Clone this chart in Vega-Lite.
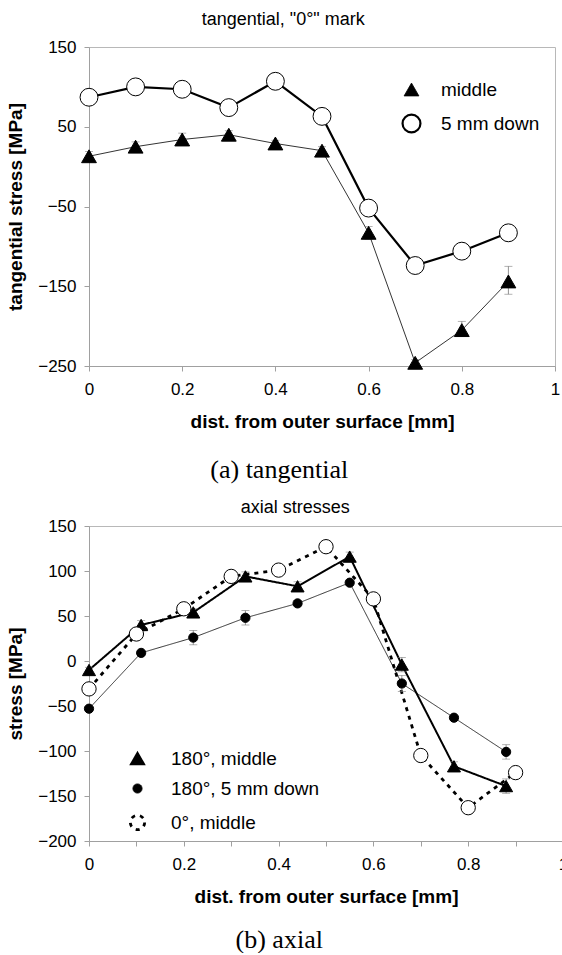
{
  "$schema": "https://vega.github.io/schema/vega-lite/v6.json",
  "padding": {"left": 6, "top": 10, "right": 0, "bottom": 0},
  "background": "white",
  "config": {
    "font": "Liberation Sans",
    "view": {"stroke": "#b8b8b8", "strokeWidth": 1},
    "axis": {
      "grid": false,
      "domainColor": "#a0a0a0",
      "tickColor": "#a0a0a0",
      "tickSize": 5,
      "labelColor": "black",
      "titleColor": "black",
      "labelFont": "Liberation Sans",
      "titleFont": "Liberation Sans",
      "labelFontSize": 17,
      "titleFontSize": 19,
      "titleFontWeight": "bold",
      "labelFlush": false,
      "labelOverlap": false
    },
    "legend": {"labelFont": "Liberation Sans", "labelFontSize": 19, "labelColor": "black"}
  },
  "datasets": {
    "top": [
      {"series": "middle", "x": 0.0, "y": 13, "lo": 8, "hi": 19},
      {"series": "middle", "x": 0.1, "y": 25, "lo": 20, "hi": 31},
      {"series": "middle", "x": 0.2, "y": 34, "lo": 28, "hi": 42},
      {"series": "middle", "x": 0.3, "y": 40, "lo": 35, "hi": 45},
      {"series": "middle", "x": 0.4, "y": 29, "lo": 25, "hi": 33},
      {"series": "middle", "x": 0.5, "y": 20, "lo": 16, "hi": 25},
      {"series": "middle", "x": 0.6, "y": -83, "lo": -91, "hi": -75},
      {"series": "middle", "x": 0.7, "y": -246, "lo": -250, "hi": -242},
      {"series": "middle", "x": 0.8, "y": -205, "lo": -213, "hi": -194},
      {"series": "middle", "x": 0.9, "y": -144, "lo": -160, "hi": -125},
      {"series": "5 mm down", "x": 0.0, "y": 87, "lo": 83, "hi": 91},
      {"series": "5 mm down", "x": 0.1, "y": 100, "lo": 96, "hi": 104},
      {"series": "5 mm down", "x": 0.2, "y": 97, "lo": 93, "hi": 101},
      {"series": "5 mm down", "x": 0.3, "y": 74, "lo": 70, "hi": 78},
      {"series": "5 mm down", "x": 0.4, "y": 107, "lo": 103, "hi": 111},
      {"series": "5 mm down", "x": 0.5, "y": 63, "lo": 59, "hi": 67},
      {"series": "5 mm down", "x": 0.6, "y": -52, "lo": -57, "hi": -47},
      {"series": "5 mm down", "x": 0.7, "y": -124, "lo": -130, "hi": -118},
      {"series": "5 mm down", "x": 0.8, "y": -106, "lo": -115, "hi": -98},
      {"series": "5 mm down", "x": 0.9, "y": -83, "lo": -90, "hi": -76}
    ],
    "bottom": [
      {"curve": "180°, middle", "x": 0.0, "y": -10, "lo": -13, "hi": -7},
      {"curve": "180°, middle", "x": 0.11, "y": 40, "lo": 35, "hi": 45},
      {"curve": "180°, middle", "x": 0.22, "y": 54, "lo": 50, "hi": 58},
      {"curve": "180°, middle", "x": 0.33, "y": 94, "lo": 89, "hi": 99},
      {"curve": "180°, middle", "x": 0.44, "y": 83, "lo": 78, "hi": 88},
      {"curve": "180°, middle", "x": 0.55, "y": 116, "lo": 111, "hi": 121},
      {"curve": "180°, middle", "x": 0.66, "y": -4, "lo": -12, "hi": 4},
      {"curve": "180°, middle", "x": 0.77, "y": -117, "lo": -122, "hi": -112},
      {"curve": "180°, middle", "x": 0.88, "y": -139, "lo": -147, "hi": -131},
      {"curve": "180°, 5 mm down", "x": 0.0, "y": -53, "lo": -56, "hi": -50},
      {"curve": "180°, 5 mm down", "x": 0.11, "y": 9, "lo": 6, "hi": 12},
      {"curve": "180°, 5 mm down", "x": 0.22, "y": 26, "lo": 18, "hi": 34},
      {"curve": "180°, 5 mm down", "x": 0.33, "y": 48, "lo": 40, "hi": 56},
      {"curve": "180°, 5 mm down", "x": 0.44, "y": 64, "lo": 61, "hi": 67},
      {"curve": "180°, 5 mm down", "x": 0.55, "y": 87, "lo": 84, "hi": 90},
      {"curve": "180°, 5 mm down", "x": 0.66, "y": -25, "lo": -34, "hi": -16},
      {"curve": "180°, 5 mm down", "x": 0.77, "y": -63, "lo": -66, "hi": -60},
      {"curve": "180°, 5 mm down", "x": 0.88, "y": -101, "lo": -109, "hi": -93},
      {"curve": "0°, middle", "x": 0.0, "y": -31},
      {"curve": "0°, middle", "x": 0.1, "y": 30},
      {"curve": "0°, middle", "x": 0.2, "y": 58},
      {"curve": "0°, middle", "x": 0.3, "y": 94},
      {"curve": "0°, middle", "x": 0.4, "y": 101},
      {"curve": "0°, middle", "x": 0.5, "y": 127},
      {"curve": "0°, middle", "x": 0.6, "y": 69},
      {"curve": "0°, middle", "x": 0.7, "y": -105},
      {"curve": "0°, middle", "x": 0.8, "y": -163},
      {"curve": "0°, middle", "x": 0.9, "y": -124}
    ]
  },
  "columns": 1,
  "spacing": 15,
  "resolve": {
    "scale": {"shape": "independent", "fill": "independent", "size": "independent", "strokeWidth": "independent", "strokeDash": "independent", "x": "independent", "y": "independent"},
    "legend": {"shape": "independent", "fill": "independent", "size": "independent", "strokeWidth": "independent", "strokeDash": "independent"}
  },
  "concat": [
    {
      "title": {"text": "(a) tangential", "orient": "bottom", "anchor": "middle", "font": "Liberation Serif", "fontSize": 26, "fontWeight": "normal", "color": "black", "offset": 25, "dx": -4},
      "columns": 1,
      "concat": [
        {
          "width": 466,
          "height": 319,
          "title": {"text": "tangential, \"0°\" mark", "fontSize": 18, "fontWeight": "normal", "color": "black", "anchor": "middle", "frame": "bounds", "offset": 9},
          "data": {"name": "top"},
          "layer": [
            {
              "mark": {"type": "line", "color": "black"},
              "encoding": {
                "x": {"field": "x", "type": "quantitative", "scale": {"domain": [0, 1], "nice": false}, "axis": {"values": [0, 0.2, 0.4, 0.6, 0.8, 1], "format": "~g", "labelPadding": 10, "titlePadding": 15, "labelOverlap": false}, "title": "dist. from outer surface [mm]"},
                "y": {"field": "y", "type": "quantitative", "scale": {"domain": [-250, 150], "nice": false}, "axis": {"values": [-250, -200, -150, -100, -50, 0, 50, 100, 150], "labelPadding": 8, "titlePadding": 12, "labelOverlap": false}, "title": "tangential stress [MPa]"},
                "detail": {"field": "series"},
                "strokeWidth": {"field": "series", "scale": {"type": "ordinal", "domain": ["middle", "5 mm down"], "range": [0.8, 2.2]}}
              }
            },
            {
              "mark": {"type": "errorbar", "color": "#777", "thickness": 0.8, "ticks": {"size": 8, "color": "#777"}},
              "encoding": {
                "x": {"field": "x", "type": "quantitative", "title": "dist. from outer surface [mm]"},
                "y": {"field": "lo", "type": "quantitative", "title": "tangential stress [MPa]"},
                "y2": {"field": "hi"}
              }
            },
            {
              "mark": {"type": "point", "filled": true, "stroke": "black", "strokeWidth": 1, "opacity": 1},
              "encoding": {
                "x": {"field": "x", "type": "quantitative", "title": "dist. from outer surface [mm]"},
                "y": {"field": "y", "type": "quantitative", "title": "tangential stress [MPa]"},
                "shape": {"field": "series", "scale": {"domain": ["middle", "5 mm down"], "range": ["triangle-up", "circle"]},
                  "legend": {"title": null, "orient": "none", "legendX": 312, "legendY": 33, "labelOffset": 19, "rowPadding": 10, "labelFontSize": 19}},
                "fill": {"field": "series", "scale": {"domain": ["middle", "5 mm down"], "range": ["black", "white"]}},
                "size": {"field": "series", "scale": {"type": "ordinal", "domain": ["middle", "5 mm down"], "range": [220, 320]}}
              }
            }
          ]
        }
      ]
    },
    {
      "title": {"text": "(b) axial", "orient": "bottom", "anchor": "middle", "font": "Liberation Serif", "fontSize": 26, "fontWeight": "normal", "color": "black", "offset": 20, "dx": -8},
      "columns": 1,
      "concat": [
        {
          "width": 474,
          "height": 315,
          "title": {"text": "axial stresses", "fontSize": 18, "fontWeight": "normal", "color": "black", "anchor": "middle", "frame": "bounds", "offset": 0, "dx": 8},
          "data": {"name": "bottom"},
          "layer": [
            {
              "mark": {"type": "line", "color": "black"},
              "encoding": {
                "x": {"field": "x", "type": "quantitative", "scale": {"domain": [0, 1], "nice": false}, "axis": {"values": [0, 0.1, 0.2, 0.3, 0.4, 0.5, 0.6, 0.7, 0.8, 0.9, 1], "labelExpr": "(round(datum.value*10) % 2) == 0 ? format(datum.value, '~g') : ''", "labelPadding": 10, "titlePadding": 15, "labelOverlap": false}, "title": "dist. from outer surface [mm]"},
                "y": {"field": "y", "type": "quantitative", "scale": {"domain": [-200, 150], "nice": false}, "axis": {"values": [-200, -150, -100, -50, 0, 50, 100, 150], "labelPadding": 8, "titlePadding": 12, "labelOverlap": false}, "title": "stress [MPa]"},
                "detail": {"field": "curve"},
                "strokeWidth": {"field": "curve", "scale": {"type": "ordinal", "domain": ["180°, middle", "180°, 5 mm down", "0°, middle"], "range": [2, 0.8, 2.8]}},
                "strokeDash": {"field": "curve", "scale": {"domain": ["180°, middle", "180°, 5 mm down", "0°, middle"], "range": [[1, 0], [1, 0], [4, 5]]}}
              }
            },
            {
              "transform": [{"filter": "isValid(datum.lo)"}],
              "mark": {"type": "errorbar", "color": "#777", "thickness": 0.8, "ticks": {"size": 8, "color": "#777"}},
              "encoding": {
                "x": {"field": "x", "type": "quantitative", "title": "dist. from outer surface [mm]"},
                "y": {"field": "lo", "type": "quantitative", "title": "stress [MPa]"},
                "y2": {"field": "hi"}
              }
            },
            {
              "mark": {"type": "point", "filled": true, "stroke": "black", "strokeWidth": 1, "opacity": 1},
              "encoding": {
                "x": {"field": "x", "type": "quantitative", "title": "dist. from outer surface [mm]"},
                "y": {"field": "y", "type": "quantitative", "title": "stress [MPa]"},
                "shape": {"field": "curve", "scale": {"domain": ["180°, middle", "180°, 5 mm down", "0°, middle"], "range": ["triangle-up", "circle", "circle"]},
                  "legend": {"title": null, "orient": "none", "legendX": 39, "legendY": 223, "labelOffset": 24, "rowPadding": 10, "labelFontSize": 19}},
                "fill": {"field": "curve", "scale": {"domain": ["180°, middle", "180°, 5 mm down", "0°, middle"], "range": ["black", "black", "white"]}},
                "size": {"field": "curve", "scale": {"type": "ordinal", "domain": ["180°, middle", "180°, 5 mm down", "0°, middle"], "range": [170, 85, 205]}}
              }
            }
          ]
        }
      ]
    }
  ]
}
